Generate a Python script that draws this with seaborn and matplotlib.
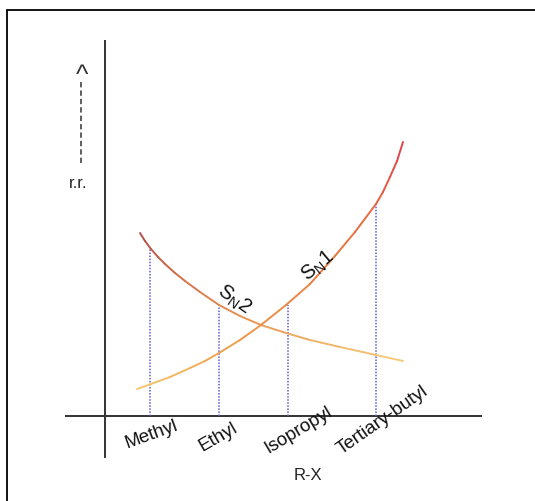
import matplotlib
matplotlib.use('Agg')
import matplotlib.pyplot as plt
import seaborn as sns
import numpy as np
from matplotlib.collections import LineCollection
from matplotlib.colors import LinearSegmentedColormap
from matplotlib.patches import Rectangle

# categories on the R-X axis and their positions
categories = ['Methyl', 'Ethyl', 'Isopropyl', 'Tertiary-butyl']
cat_x = [1.0, 2.0, 3.0, 4.29]

# curves (x, relative rate)
sn2_x = [0.847, 0.920, 1.007, 1.109, 1.212, 1.358, 1.504, 1.723, 2.0, 2.307,
         2.613, 2.978, 3.328, 3.766, 4.292, 4.686]
sn2_y = [1.83, 1.75, 1.67, 1.59, 1.52, 1.43, 1.35, 1.24, 1.11, 1.00,
         0.91, 0.83, 0.76, 0.69, 0.61, 0.55]
sn1_x = [0.803, 1.007, 1.285, 1.577, 1.796, 2.0, 2.307, 2.613, 2.978, 3.328,
         3.693, 3.985, 4.292, 4.394, 4.496, 4.599, 4.686]
sn1_y = [0.27, 0.32, 0.39, 0.48, 0.55, 0.63, 0.76, 0.91, 1.11, 1.32,
         1.60, 1.84, 2.12, 2.24, 2.39, 2.55, 2.74]

# rate at each category (top of the dotted guide)
sn2_at_cat = [1.67, 1.11, 0.83, 0.61]
sn1_at_cat = [0.32, 0.63, 1.11, 2.12]

sns.set_theme(style='white')
plt.rcParams['font.family'] = ['Liberation Sans', 'DejaVu Sans']

fig = plt.figure(figsize=(5.35, 5.01), dpi=100)
ax = fig.add_axes([0, 0, 1, 1])
ax.set_xlim(-1.197, 6.613)
ax.set_ylim(-0.85, 4.16)
ax.axis('off')

# frame of the picture (top and left edges show)
fig.patches.append(Rectangle((7 / 535, -0.2), 1.3, 1.2 - 10 / 501,
                             transform=fig.transFigure, fill=False,
                             edgecolor='black', linewidth=1.3))

# axes lines
ax.plot([0.336, 0.336], [-0.42, 3.76], color='#333333', lw=1.4, solid_capstyle='butt')
ax.plot([-0.25, 5.84], [0, 0], color='#333333', lw=1.4, solid_capstyle='butt')

# dotted guides
tops = [max(a, b) for a, b in zip(sn2_at_cat, sn1_at_cat)]
ax.vlines(cat_x, 0, tops, colors='#5c5cd6', linestyles=(0, (1, 1)), lw=1.1)


def gradient_line(xs, ys, colors):
    pts = np.column_stack([xs, ys]).reshape(-1, 1, 2)
    segs = np.concatenate([pts[:-1], pts[1:]], axis=1)
    cmap = LinearSegmentedColormap.from_list('g', colors)
    lc = LineCollection(segs, cmap=cmap, linewidth=1.4, capstyle='round',
                        joinstyle='round')
    lc.set_array(np.linspace(0, 1, len(segs)))
    ax.add_collection(lc)


gradient_line(sn2_x, sn2_y, ['#b5504a', '#d06a48', '#e89a55', '#f5c97a'])
gradient_line(sn1_x, sn1_y, ['#f6c56e', '#eda04d', '#e8743f', '#df4646'])

# curve labels
ax.text(2.22, 1.16, r'$\mathregular{S_N2}$', fontsize=14.5, rotation=-35,
        ha='center', va='center', color='#111111')
ax.text(3.45, 1.50, r'$\mathregular{S_N1}$', fontsize=14.5, rotation=40,
        ha='center', va='center', color='#111111')

# category labels
lab_x = [1.02, 1.985, 3.153, 4.394]
lab_y = [-0.19, -0.21, -0.14, -0.04]
lab_rot = [20, 30, 31, 35]
for name, lx, ly, r in zip(categories, lab_x, lab_y, lab_rot):
    ax.text(lx, ly, name, fontsize=13.5, rotation=r, ha='center', va='center',
            rotation_mode='anchor', color='#111111')

ax.text(3.30, -0.59, 'R-X', fontsize=12, ha='center', va='center', color='#222222')

# y-axis hint: arrow and label
ax.plot([-0.015, -0.015], [2.53, 3.36], color='#333333', lw=1.1, ls=(0, (3.5, 2)))
ax.text(0.0, 3.40, '^', fontsize=19, ha='center', va='center', color='#333333')
ax.text(-0.058, 2.33, 'r.r.', fontsize=12, ha='center', va='center', color='#222222')

fig.savefig('out.png', dpi=100)
